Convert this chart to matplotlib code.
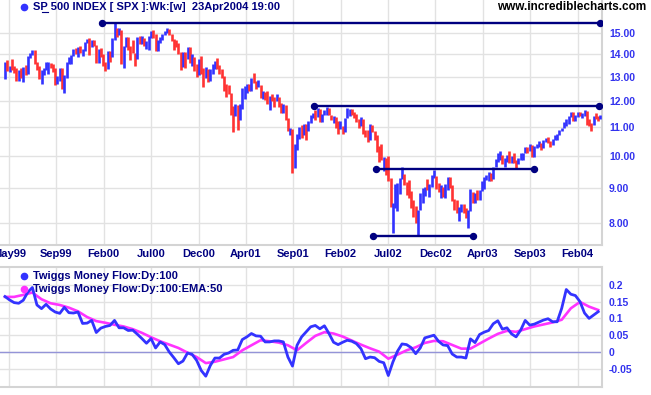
import numpy as np
import pandas as pd
import matplotlib
matplotlib.use("Agg")
import matplotlib.pyplot as plt
from matplotlib.lines import Line2D

plt.rcParams['font.family'] = ['Liberation Sans', 'DejaVu Sans']

# ---------------- data ----------------
weeks = pd.date_range("1999-04-23", periods=262, freq="W-FRI")

high = [13.65,13.71,13.48,13.76,13.47,13.38,13.28,13.38,13.43,13.49,
        13.91,14.06,14.21,14.21,13.66,13.48,13.28,13.37,13.63,13.62,
        13.61,13.54,13.36,13.02,13.36,13.39,13.06,13.63,13.87,13.96,
        14.24,14.27,14.34,14.38,14.25,14.59,14.74,14.78,14.66,14.66,
        14.41,14.25,14.27,14.03,13.63,14.14,14.14,14.78,15.53,15.28,
        15.27,15.16,14.36,14.82,14.81,14.38,14.66,14.07,14.83,14.88,
        14.89,14.77,14.60,14.87,15.12,15.18,14.96,14.65,14.84,14.97,
        15.13,15.25,15.20,14.96,14.71,14.65,14.54,14.09,14.10,14.08,
        14.33,14.35,14.02,13.88,13.55,13.76,13.91,13.36,13.40,13.35,
        13.33,13.55,13.67,13.83,13.52,13.31,13.02,12.67,12.65,12.33,
        11.80,11.89,11.83,11.86,12.53,12.60,12.70,12.67,12.92,13.15,
        12.80,12.86,12.65,12.40,12.34,12.40,12.20,12.26,12.13,12.27,
        12.15,11.93,11.86,11.85,11.34,10.97,10.93,10.41,10.76,10.99,
        11.07,11.11,11.10,11.24,11.46,11.52,11.63,11.73,11.67,11.48,
        11.64,11.76,11.73,11.46,11.40,11.38,11.23,11.21,11.05,11.32,
        11.73,11.66,11.66,11.55,11.48,11.29,11.37,11.29,10.91,10.90,
        11.10,11.07,10.87,10.70,10.34,10.40,9.95,9.93,10.00,9.30,
        8.55,9.12,9.13,9.30,9.65,9.41,9.17,9.24,8.90,8.65,
        8.48,8.36,8.85,9.00,9.01,9.25,9.12,9.40,9.54,9.36,
        9.13,9.08,9.03,9.11,9.31,9.32,9.07,8.68,8.64,8.44,
        8.52,8.52,8.43,8.35,8.96,8.86,8.84,8.92,8.94,9.19,
        9.31,9.40,9.48,9.46,9.65,9.90,10.10,10.16,10.02,9.93,
        10.03,10.15,10.00,10.09,9.86,9.93,10.11,10.09,10.30,10.30,
        10.40,10.37,10.33,10.41,10.49,10.43,10.54,10.61,10.63,10.51,
        10.59,10.71,10.75,10.89,10.96,11.18,11.31,11.40,11.55,11.55,
        11.43,11.58,11.57,11.51,11.63,11.59,11.31,11.15,11.42,11.51,
        11.42,11.43]

low = [12.89,13.26,13.18,13.30,13.14,12.81,12.81,12.92,12.78,13.05,
       13.11,13.82,13.96,13.56,13.28,12.90,12.69,13.05,13.29,13.11,
       13.36,13.18,12.63,12.68,12.82,12.47,12.33,12.92,13.54,13.53,
       13.90,14.02,13.87,14.04,13.93,14.15,14.55,13.97,14.33,14.38,
       13.60,13.60,13.87,13.46,13.25,13.31,13.66,13.88,14.65,14.84,
       14.94,13.56,13.39,14.34,14.20,13.73,14.07,13.46,13.78,14.49,
       14.50,14.38,14.22,14.20,14.75,14.78,14.17,14.16,14.53,14.68,
       14.90,15.00,14.90,14.60,14.21,14.34,14.00,13.29,13.42,13.37,
       13.80,13.61,13.46,13.23,13.00,13.05,13.09,12.55,12.95,12.75,
       12.80,13.09,13.32,13.35,13.10,12.95,12.38,12.15,12.26,11.45,
       10.81,11.40,10.91,11.26,11.67,12.05,12.32,12.40,12.40,12.73,
       12.46,12.55,12.10,12.08,12.03,11.88,11.65,11.98,11.77,12.01,
       11.74,11.52,11.52,11.27,10.85,10.73,9.45,9.62,10.19,10.56,
       10.61,10.70,10.54,10.85,11.15,11.35,11.27,11.38,11.18,11.20,
       11.44,11.45,11.45,11.25,11.15,10.98,10.74,10.92,10.74,10.82,
       11.32,11.40,11.43,11.35,11.19,10.98,11.03,10.75,10.63,10.48,
       10.55,10.81,10.54,10.12,9.81,9.85,9.52,9.38,9.19,8.44,
       7.75,8.42,8.34,8.82,9.26,9.08,8.78,8.70,8.43,8.18,
       8.00,7.69,8.35,8.56,8.76,8.93,8.72,9.02,9.28,8.96,
       8.88,8.71,8.73,8.69,8.93,8.99,8.61,8.37,8.27,8.07,
       8.30,8.28,8.15,7.89,8.33,8.56,8.56,8.64,8.65,8.89,
       8.97,9.23,9.20,9.20,9.27,9.63,9.81,9.87,9.74,9.64,
       9.80,9.78,9.76,9.78,9.60,9.75,9.88,9.88,10.08,10.10,
       10.17,9.96,9.96,10.25,10.31,10.18,10.28,10.46,10.45,10.31,
       10.35,10.54,10.53,10.72,10.85,10.95,11.05,11.13,11.38,11.22,
       11.24,11.38,11.40,11.33,11.40,11.07,11.03,10.87,11.08,11.31,
       11.21,11.30]

close = [13.57,13.35,13.45,13.38,13.30,13.02,13.28,12.94,13.43,13.15,
         13.91,14.03,14.19,13.57,13.29,13.00,13.28,13.37,13.48,13.57,
         13.52,13.35,12.77,12.83,13.36,12.47,13.02,13.63,13.70,13.96,
         14.22,14.17,14.33,14.17,14.21,14.58,14.69,14.41,14.65,14.41,
         13.60,14.24,13.87,13.46,13.33,14.09,13.95,14.64,15.27,14.99,
         15.16,13.57,14.35,14.52,14.33,14.21,14.07,13.78,14.77,14.57,
         14.64,14.41,14.55,14.79,15.10,14.80,14.20,14.63,14.72,14.92,
         15.06,15.21,14.95,14.66,14.49,14.37,14.09,13.74,13.97,13.80,
         14.27,13.66,13.68,13.42,13.15,13.70,13.12,13.06,13.20,12.98,
         13.19,13.43,13.55,13.49,13.15,13.02,12.46,12.34,12.33,11.51,
         11.40,11.60,11.28,11.84,12.43,12.53,12.67,12.46,12.92,12.78,
         12.61,12.65,12.14,12.25,12.24,11.91,12.16,12.11,12.06,12.14,
         11.90,11.62,11.85,11.34,10.86,10.93,9.66,10.41,10.71,10.92,
         10.73,11.05,10.87,11.20,11.39,11.50,11.39,11.67,11.23,11.45,
         11.61,11.73,11.46,11.28,11.33,11.22,10.96,11.04,10.90,11.32,
         11.64,11.66,11.49,11.47,11.23,11.11,11.25,10.76,10.73,10.55,
         11.07,10.84,10.67,10.28,10.07,9.89,9.90,9.89,9.21,8.48,
         8.53,8.64,9.09,9.29,9.41,9.16,8.94,8.90,8.45,8.27,
         8.01,8.35,8.84,8.98,9.01,8.95,9.10,9.31,9.36,9.07,
         8.89,8.96,8.75,9.09,9.28,9.02,8.61,8.56,8.30,8.35,
         8.48,8.41,8.29,8.33,8.96,8.64,8.79,8.68,8.94,8.99,
         9.30,9.33,9.44,9.33,9.64,9.88,9.89,9.96,9.76,9.86,
         9.98,9.93,9.99,9.80,9.78,9.91,9.93,10.08,10.21,10.19,
         10.36,9.97,10.30,10.39,10.39,10.29,10.51,10.53,10.50,10.35,
         10.58,10.62,10.74,10.89,10.96,11.08,11.22,11.40,11.42,11.31,
         11.43,11.46,11.44,11.45,11.57,11.21,11.10,11.08,11.42,11.39,
         11.35,11.41]

# trend lines drawn on the price chart (level, start bar, end bar)
line_levels = [15.53, 11.80, 9.585, 7.67]
line_start = [42.6, 135.4, 162.6, 161.4]
line_end = [260.8, 260.2, 232.0, 205.3]

price_ticks = [8, 9, 10, 11, 12, 13, 14, 15]
date_labels = ["May99", "Sep99", "Feb00", "Jul00", "Dec00", "Apr01", "Sep01",
               "Feb02", "Jul02", "Dec02", "Apr03", "Sep03", "Feb04"]

# Twiggs Money Flow (sampled every 2 weeks) and its EMA (every 4 weeks)
tmf = [0.165,0.155,0.147,0.145,0.154,0.178,0.192,0.140,0.129,0.142,
       0.128,0.119,0.115,0.133,0.117,0.116,0.119,0.085,0.086,0.094,
       0.058,0.071,0.076,0.079,0.094,0.072,0.072,0.064,0.065,0.053,
       0.040,0.026,0.040,0.012,0.030,0.022,0.000,-0.017,-0.035,-0.027,
       -0.003,-0.007,-0.025,-0.055,-0.072,-0.040,-0.018,-0.018,-0.007,-0.003,
       0.005,0.006,0.037,0.045,0.055,0.048,0.047,0.030,0.030,0.033,
       0.033,0.030,-0.015,-0.042,0.020,0.045,0.060,0.075,0.079,0.069,
       0.078,0.055,0.029,0.022,0.029,0.035,0.032,0.025,0.010,-0.020,
       -0.015,-0.017,-0.028,-0.032,-0.070,-0.030,0.002,0.024,0.022,0.013,
       -0.005,0.012,0.042,0.046,0.050,0.032,0.021,0.019,-0.006,-0.015,
       -0.015,-0.018,0.039,0.028,0.052,0.059,0.064,0.084,0.093,0.068,
       0.072,0.054,0.045,0.065,0.094,0.080,0.083,0.089,0.095,0.099,
       0.090,0.090,0.130,0.186,0.172,0.168,0.150,0.116,0.100,0.110,
       0.120]
tmf_ema = [0.164,0.164,0.170,0.177,0.157,0.145,0.140,0.132,0.121,0.104,
           0.092,0.087,0.081,0.076,0.068,0.057,0.044,0.032,0.022,0.012,
           -0.002,-0.015,-0.033,-0.029,-0.022,-0.015,0.005,0.020,0.035,0.032,
           0.028,0.020,0.005,0.027,0.048,0.059,0.055,0.046,0.034,0.022,
           0.011,0.001,-0.020,-0.008,0.005,0.014,0.027,0.033,0.032,0.021,
           0.010,0.010,0.025,0.040,0.054,0.063,0.060,0.068,0.076,0.082,
           0.088,0.096,0.130,0.149,0.135,0.125]
tmf_ticks = [-0.05, 0, 0.05, 0.1, 0.15, 0.2]
tmf_labels = ["-0.05", "0", "0.05", "0.1", "0.15", "0.2"]

# ---------------- layout ----------------
W, H = 651, 395
fig = plt.figure(figsize=(W / 100, H / 100), dpi=100)
fig.patch.set_facecolor("white")

def fx(px):
    return px / W

def fy(py):
    return 1 - py / H

ax1 = fig.add_axes([0, fy(245), fx(602), 245 / H])
ax2 = fig.add_axes([0, fy(387), fx(602), (387 - 267) / H])

BLUE = "#3333ff"
RED = "#ff3333"
NAVY = "#000080"
GRID = "#e2e2e2"
LABEL = "#3333ee"

n = len(close)
idx = np.arange(n)
cols = [BLUE] + [BLUE if close[i] >= close[i - 1] else RED for i in range(1, n)]

px_per_bar = 2.2816
x_left = -5 / px_per_bar
x_right = (602 - 5) / px_per_bar
tick_pos = [(8.9 + 47.4 * k - 5) / px_per_bar for k in range(len(date_labels))]

# ---- price panel ----
ax1.set_yscale("log")
ax1.set_xlim(x_left, x_right)
ax1.set_ylim(15 * np.exp(-211.7 / 302.3), 15 * np.exp(33.3 / 302.3))
ax1.vlines(idx, low, high, colors=cols, linewidth=1.9, zorder=3)
for lv, s, e in zip(line_levels, line_start, line_end):
    ax1.plot([s, e], [lv, lv], color=NAVY, lw=1.7, marker="o", ms=4.3, zorder=4)

ax1.yaxis.tick_right()
ax1.set_yticks(price_ticks)
ax1.set_yticklabels([f"{v:.2f}" for v in price_ticks])
ax1.yaxis.set_minor_locator(matplotlib.ticker.NullLocator())
ax1.set_xticks(tick_pos)
ax1.set_xticklabels(date_labels)
ax1.tick_params(axis="y", length=0, pad=5, labelsize=7.5, labelcolor=LABEL)
ax1.tick_params(axis="x", length=0, pad=3, labelsize=8, labelcolor=NAVY)
for lab in ax1.get_xticklabels() + ax1.get_yticklabels():
    lab.set_fontweight("bold")
ax1.grid(True, color=GRID, lw=1)
ax1.set_axisbelow(True)
for sp in ["left", "top"]:
    ax1.spines[sp].set_visible(False)
for sp in ["right", "bottom"]:
    ax1.spines[sp].set_color("#d4d4d4")
    ax1.spines[sp].set_linewidth(1.5)

# ---- money flow panel ----
ax2.set_xlim(x_left, x_right)
ax2.set_ylim((352 - 387) / 336, (352 - 267) / 336)
ax2.axhline(0, color="#9494d8", lw=1, zorder=2)
ax2.plot(np.arange(len(tmf_ema)) * 4, tmf_ema, color="#ff33ff", lw=1.9, zorder=3)
ax2.plot(np.arange(len(tmf)) * 2, tmf, color=BLUE, lw=2.0, zorder=4)
ax2.yaxis.tick_right()
ax2.set_yticks(tmf_ticks)
ax2.set_yticklabels(tmf_labels)
ax2.set_xticks(tick_pos)
ax2.set_xticklabels([])
ax2.tick_params(axis="y", length=0, pad=5, labelsize=7.5, labelcolor=LABEL)
ax2.tick_params(axis="x", length=0)
for lab in ax2.get_yticklabels():
    lab.set_fontweight("bold")
ax2.grid(True, color=GRID, lw=1)
ax2.set_axisbelow(True)
ax2.spines["left"].set_visible(False)
for sp in ["right", "bottom", "top"]:
    ax2.spines[sp].set_color("#d4d4d4")
    ax2.spines[sp].set_linewidth(1.5)

# ---- texts ----
fig.add_artist(Line2D([fx(24)], [fy(6.5)], marker="o", ms=4.5, color=BLUE, lw=0))
fig.text(fx(33), fy(7), "SP 500 INDEX [ SPX ]:Wk:[w]  23Apr2004 19:00",
         ha="left", va="center", fontsize=8, fontweight="bold", color=NAVY)
fig.add_artist(Line2D([fx(41.5), fx(48)], [fy(12), fy(12)], color=NAVY, lw=0.8))
fig.text(fx(646), fy(7), "www.incrediblecharts.com", ha="right", va="center",
         fontsize=8.5, fontweight="bold", color="black")

fig.add_artist(Line2D([fx(23.5)], [fy(276)], marker="o", ms=4.5, color=BLUE, lw=0))
fig.text(fx(33), fy(276), "Twiggs Money Flow:Dy:100", ha="left", va="center",
         fontsize=8, fontweight="bold", color=NAVY)
fig.add_artist(Line2D([fx(23.5)], [fy(289)], marker="o", ms=4.5, color="#ff33ff", lw=0))
fig.text(fx(33), fy(289), "Twiggs Money Flow:Dy:100:EMA:50", ha="left", va="center",
         fontsize=8, fontweight="bold", color=NAVY)

fig.savefig("out.png", dpi=100, facecolor="white")
